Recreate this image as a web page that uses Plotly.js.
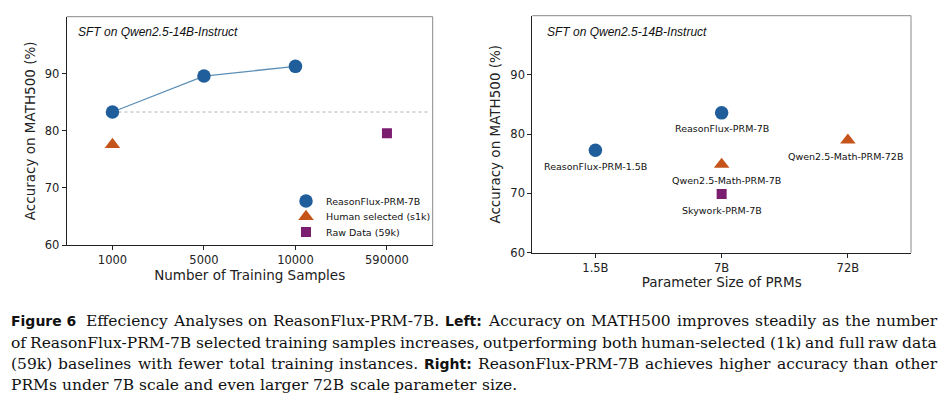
<!DOCTYPE html>
<html>
<head>
<meta charset="utf-8">
<script src="https://cdn.plot.ly/plotly-3.0.1.min.js"></script>
<style>html,body{margin:0;padding:0;background:#fff;}#chart{width:946px;height:399px;}</style>
</head>
<body>
<div id="chart"></div>
<script>
// ---- Left panel data ----
const sampleCats = ['1000', '5000', '10000', '590000'];
const fluxSamples = ['1000', '5000', '10000'];
const fluxAcc = [83.3, 89.6, 91.3];
const humanSamples = ['1000'];
const humanAcc = [77.6];
const rawSamples = ['590000'];
const rawAcc = [79.6];

// ---- Right panel data ----
const sizeCats = ['1.5B', '7B', '72B'];
const fluxPrmSize = ['1.5B', '7B'];
const fluxPrmAcc = [77.3, 83.6];
const fluxPrmNames = ['ReasonFlux-PRM-1.5B', 'ReasonFlux-PRM-7B'];
const qwenPrmSize = ['7B', '72B'];
const qwenPrmAcc = [74.9, 79.0];
const qwenPrmNames = ['Qwen2.5-Math-PRM-7B', 'Qwen2.5-Math-PRM-72B'];
const skyPrmSize = ['7B'];
const skyPrmAcc = [69.9];
const skyPrmNames = ['Skywork-PRM-7B'];

const yTicks = [60, 70, 80, 90];
const panelNote = 'SFT on Qwen2.5-14B-Instruct';
// **...** marks bold sans text, ~ marks a wide gap
const captionLines = [
  '**Figure 6**~Effeciency Analyses on ReasonFlux-PRM-7B. **Left:** Accuracy on MATH500 improves steadily as the number',
  'of ReasonFlux-PRM-7B selected training samples increases, outperforming both human-selected (1k) and full raw data',
  '(59k) baselines with fewer total training instances. **Right:** ReasonFlux-PRM-7B achieves higher accuracy than other',
  'PRMs under 7B scale and even larger 72B scale parameter size.'
];

const BLUE = '#1f5d9b', ORANGE = '#c5541b', PURPLE = '#7b1e70', LINE = '#5d8fb6';
const W = 946, H = 399;
const px = v => v / W, py = v => 1 - v / H;

const traces = [
  {x: fluxSamples, y: fluxAcc, xaxis: 'x', yaxis: 'y', type: 'scatter', mode: 'lines',
   showlegend: false, line: {color: LINE, width: 1.3}},
  {x: fluxSamples, y: fluxAcc, xaxis: 'x', yaxis: 'y', type: 'scatter', mode: 'markers',
   name: 'ReasonFlux-PRM-7B', legend: 'legend', marker: {symbol: 'circle', size: 13.5, color: BLUE}},
  {x: humanSamples, y: humanAcc, xaxis: 'x', yaxis: 'y', type: 'scatter', mode: 'markers',
   name: 'Human selected (s1k)', legend: 'legend2', marker: {symbol: 'triangle-up', size: 13.5, color: ORANGE}},
  {x: rawSamples, y: rawAcc, xaxis: 'x', yaxis: 'y', type: 'scatter', mode: 'markers',
   name: 'Raw Data (59k)', legend: 'legend3', marker: {symbol: 'square', size: 10, color: PURPLE}},
  {x: fluxPrmSize, y: fluxPrmAcc, xaxis: 'x2', yaxis: 'y2', type: 'scatter', mode: 'markers',
   showlegend: false, marker: {symbol: 'circle', size: 13.5, color: BLUE}},
  {x: qwenPrmSize, y: qwenPrmAcc, xaxis: 'x2', yaxis: 'y2', type: 'scatter', mode: 'markers',
   showlegend: false, marker: {symbol: 'triangle-up', size: 13.5, color: ORANGE}},
  {x: skyPrmSize, y: skyPrmAcc, xaxis: 'x2', yaxis: 'y2', type: 'scatter', mode: 'markers',
   showlegend: false, marker: {symbol: 'square', size: 10, color: PURPLE}}
];

const tickFont = {family: 'DejaVu Sans', size: 11.5, color: '#222'};
const titleFont = {family: 'DejaVu Sans', size: 13.5, color: '#222'};
function xAx(domain, cats, title, anchor) {
  return {domain: domain, anchor: anchor, type: 'category', categoryorder: 'array', categoryarray: cats,
    range: [-0.5, cats.length - 0.5], showgrid: false, zeroline: false,
    showline: true, linecolor: '#222', linewidth: 1, ticks: 'outside', ticklen: 4, tickcolor: '#222',
    tickfont: tickFont, title: {text: title, font: titleFont, standoff: 4}, fixedrange: true};
}
function yAx(domain, anchor) {
  return {domain: domain, anchor: anchor, range: [60, 100], tickvals: yTicks, showgrid: false, zeroline: false,
    showline: true, linecolor: '#222', linewidth: 1, ticks: 'outside', ticklen: 4, tickcolor: '#222',
    tickfont: tickFont, title: {text: 'Accuracy on MATH500 (%)', font: titleFont, standoff: 6}, fixedrange: true};
}

const annotations = [];
[px(76), px(545)].forEach(xp => {
  annotations.push({xref: 'paper', yref: 'paper', x: xp, y: py(32), xanchor: 'left', yanchor: 'middle',
    text: '<i>' + panelNote + '</i>', showarrow: false,
    font: {family: 'Liberation Sans', size: 12, color: '#111'}});
});
const labelShift = {'Qwen2.5-Math-PRM-7B': 5, 'Qwen2.5-Math-PRM-72B': -2};
[[fluxPrmSize, fluxPrmAcc, fluxPrmNames], [qwenPrmSize, qwenPrmAcc, qwenPrmNames], [skyPrmSize, skyPrmAcc, skyPrmNames]]
  .forEach(([xs, ys, names]) => xs.forEach((x, i) => annotations.push({
    xref: 'x2', yref: 'y2', x: x, y: ys[i], text: names[i], showarrow: false,
    xanchor: 'center', yanchor: 'middle', yshift: -16, xshift: labelShift[names[i]] || 0,
    font: {family: 'DejaVu Sans', size: 9.5, color: '#111'}})));

// ---- Caption: justified lines built word by word ----
const CAP_SIZE = 15.5, BOLD_SIZE = 14;
const CAP_SERIF = {family: 'DejaVu Serif', size: CAP_SIZE, color: '#111'};
const CAP_BOLD = {family: 'DejaVu Sans', size: BOLD_SIZE, color: '#111'};
const ctx = document.createElement('canvas').getContext('2d');
function measure(text, bold) {
  ctx.font = bold ? "bold " + BOLD_SIZE + "px 'DejaVu Sans'" : CAP_SIZE + "px 'DejaVu Serif'";
  return ctx.measureText(text).width;
}
const capY = [321, 342.5, 364, 385];
const capLeft = 10, capRight = 936;
captionLines.forEach((line, li) => {
  const items = [];
  line.split('**').forEach((seg, si) => {
    if (si % 2 === 1) { items.push({t: seg, b: true}); return; }
    seg.split(' ').forEach(w => {
      if (!w.length) return;
      if (w.startsWith('~')) { items.push({gap: true}); w = w.slice(1); }
      if (w.length) items.push({t: w, b: false});
    });
  });
  const ws = items.filter(i => !i.gap);
  ws.forEach(w => w.w = measure(w.t, w.b));
  let units = 0;
  for (let k = 1; k < items.length; k++) { if (items[k].gap) continue; units += (items[k - 1].gap ? 1.6 : 1); }
  const total = ws.reduce((a, w) => a + w.w, 0);
  const justify = li < captionLines.length - 1;
  const space = justify ? (capRight - capLeft - total) / units : measure(' ', false);
  let x = capLeft, prevGap = false, first = true;
  items.forEach(it => {
    if (it.gap) { prevGap = true; return; }
    if (!first) x += space * (prevGap ? 1.6 : 1);
    prevGap = false; first = false;
    annotations.push({xref: 'paper', yref: 'paper', x: px(x), y: py(capY[li]), xanchor: 'left', yanchor: 'middle',
      text: it.b ? '<b>' + it.t + '</b>' : it.t, showarrow: false, borderpad: 0,
      font: it.b ? CAP_BOLD : CAP_SERIF});
    x += it.w;
  });
});

const leftDom = [px(66.7), px(432.7)], rightDom = [px(532.3), px(911)];
const leftY = [py(245), py(16.7)], rightY = [py(252.7), py(15.7)];
const shapes = [
  {type: 'line', xref: 'x', yref: 'y', x0: 0, x1: 3.45, y0: fluxAcc[0], y1: fluxAcc[0],
   line: {color: '#b0b0b0', width: 1, dash: 'dot'}, layer: 'below'},
  {type: 'line', xref: 'paper', yref: 'paper', x0: leftDom[0], x1: leftDom[1], y0: leftY[1], y1: leftY[1], line: {color: '#888', width: 1}},
  {type: 'line', xref: 'paper', yref: 'paper', x0: leftDom[1], x1: leftDom[1], y0: leftY[0], y1: leftY[1], line: {color: '#888', width: 1}},
  {type: 'line', xref: 'paper', yref: 'paper', x0: rightDom[0], x1: rightDom[1], y0: rightY[1], y1: rightY[1], line: {color: '#888', width: 1}},
  {type: 'line', xref: 'paper', yref: 'paper', x0: rightDom[1], x1: rightDom[1], y0: rightY[0], y1: rightY[1], line: {color: '#888', width: 1}}
];

function leg(yc) {
  return {x: px(286), y: py(yc), xanchor: 'left', yanchor: 'middle', bgcolor: 'rgba(0,0,0,0)',
    font: {family: 'DejaVu Sans', size: 9.5, color: '#111'}, itemwidth: 30};
}
const layout = {
  width: W, height: H, margin: {l: 0, r: 0, t: 0, b: 0}, paper_bgcolor: '#fff', plot_bgcolor: '#fff',
  showlegend: true,
  legend: leg(201), legend2: leg(216.5), legend3: leg(232),
  xaxis: xAx(leftDom, sampleCats, 'Number of Training Samples', 'y'),
  yaxis: yAx(leftY, 'x'),
  xaxis2: xAx(rightDom, sizeCats, 'Parameter Size of PRMs', 'y2'),
  yaxis2: yAx(rightY, 'x2'),
  annotations: annotations, shapes: shapes
};
Plotly.newPlot('chart', traces, layout, {displayModeBar: false, staticPlot: true});
</script>
</body>
</html>
